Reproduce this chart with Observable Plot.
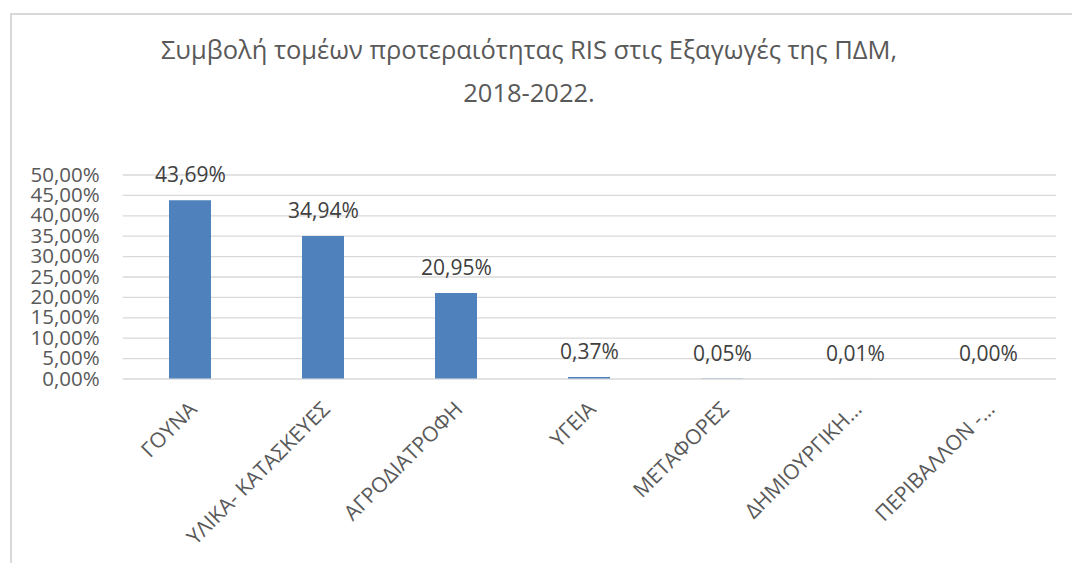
<!DOCTYPE html>
<html>
<head>
<meta charset="utf-8">
<script src="https://cdn.jsdelivr.net/npm/d3@7"></script>
<script src="https://cdn.jsdelivr.net/npm/@observablehq/plot@0.6"></script>
<style>
  html, body { margin: 0; padding: 0; background: #fff; }
  #wrap { position: relative; width: 1072px; height: 563px; overflow: hidden; font-family: "Open Sans", sans-serif; }
  #frame { position: absolute; left: 10px; top: 13px; width: 1100px; height: 600px; border-left: 2px solid #d9d9d9; border-top: 2px solid #d9d9d9; }
  #title { position: absolute; left: 0; width: 1058px; top: 28px; text-align: center; font-size: 25.5px; line-height: 43px; color: #595959; }
  #chart { position: absolute; left: 0; top: 0; }
</style>
</head>
<body>
<div id="wrap">
  <div id="frame"></div>
  <div id="title">Συμβολή τομέων προτεραιότητας RIS στις Εξαγωγές της ΠΔΜ,<br>2018-2022.</div>
  <div id="chart"></div>
</div>
<script>
const categories = ["ΓΟΥΝΑ", "ΥΛΙΚΑ- ΚΑΤΑΣΚΕΥΕΣ", "ΑΓΡΟΔΙΑΤΡΟΦΗ", "ΥΓΕΙΑ", "ΜΕΤΑΦΟΡΕΣ", "ΔΗΜΙΟΥΡΓΙΚΗ…", "ΠΕΡΙΒΑΛΛΟΝ -…"];
const shares = [43.69, 34.94, 20.95, 0.37, 0.05, 0.01, 0.00];
const yTicks = [0, 5, 10, 15, 20, 25, 30, 35, 40, 45, 50];

const data = categories.map((c, i) => ({category: c, value: shares[i]}));
const fmt = v => v.toFixed(2).replace(".", ",") + "%";

const plot = Plot.plot({
  width: 1072,
  height: 563,
  marginLeft: 122.7,
  marginRight: 16,
  marginTop: 174.5,
  marginBottom: 184.5,
  style: {fontFamily: "Open Sans, sans-serif", background: "transparent", overflow: "visible"},
  x: {domain: categories, paddingInner: 0.685, paddingOuter: 0.3425, axis: null},
  y: {domain: [0, 50], axis: null},
  marks: [
    Plot.ruleY(yTicks, {stroke: "#d9d9d9", strokeWidth: 1.3, strokeOpacity: 1}),
    Plot.barY(data, {x: "category", y: "value", fill: "#4f81bd"}),
    Plot.text(yTicks, {x: null, y: d => d, frameAnchor: "left", dx: -23.5, text: fmt, textAnchor: "end", fontSize: 20.5, fill: "#595959"}),
    Plot.text(data, {x: "category", y: "value", text: d => fmt(d.value), dy: -25, fontSize: 21, fill: "#404040"}),
    Plot.text(data, {x: "category", y: 0, text: "category", rotate: -45, textAnchor: "end", lineAnchor: "top", dy: 21, dx: -3, fontSize: 21, fill: "#595959"})
  ]
});
document.getElementById("chart").appendChild(plot);
</script>
</body>
</html>
